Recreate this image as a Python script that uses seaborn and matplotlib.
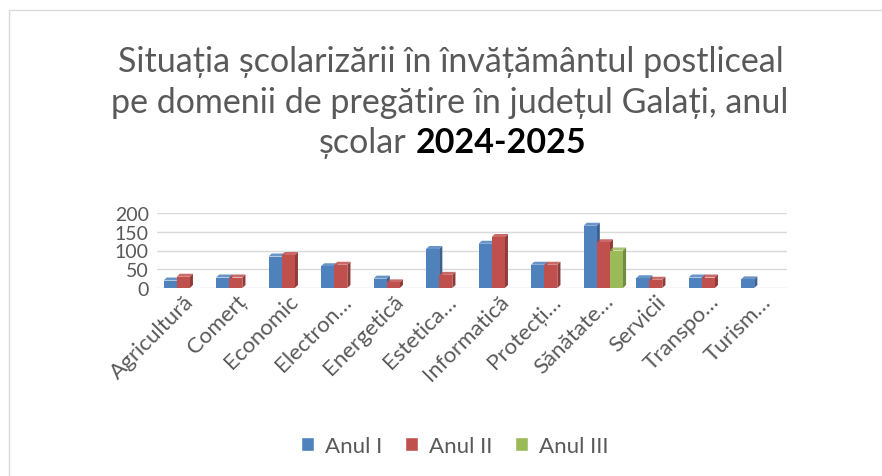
import numpy as np
import pandas as pd
import matplotlib
matplotlib.use("Agg")
import matplotlib.pyplot as plt
from matplotlib.patches import Polygon
from matplotlib.lines import Line2D
import seaborn as sns

# date
domenii = ["Agricultură", "Comerț", "Economic", "Electron…", "Energetică",
           "Estetica…", "Informatică", "Protecți…", "Sănătate…", "Servicii",
           "Transpo…", "Turism…"]
anul_1 = [20, 28, 84, 58, 25, 104, 118, 62, 166, 26, 28, 23]
anul_2 = [30, 28, 88, 62, 15, 35, 136, 62, 122, 22, 28, np.nan]
anul_3 = [np.nan] * 8 + [100] + [np.nan] * 3
serii = ["Anul I", "Anul II", "Anul III"]
culori = ["#4F81BD", "#C0504D", "#9BBB59"]
umbre = ["#3A6190", "#913B39", "#738C42"]
y_ticks = [0, 50, 100, 150, 200]

df = pd.DataFrame({"Domeniu": domenii, "Anul I": anul_1,
                   "Anul II": anul_2, "Anul III": anul_3})
df = df.melt(id_vars="Domeniu", var_name="An", value_name="Elevi").dropna()

sns.set_style("white")
plt.rcParams["font.family"] = ["Lato", "DejaVu Sans"]
gri = "#595959"

fig = plt.figure(figsize=(8.82, 4.77), dpi=100)
ax = fig.add_axes([157 / 882, 1 - 289 / 477, 630 / 882, 75 / 477])

sns.barplot(data=df, x="Domeniu", y="Elevi", hue="An", order=domenii,
            hue_order=serii, palette=culori, width=0.75, saturation=1,
            ax=ax, linewidth=0, zorder=3)

# efect 3D simplu: fata de sus si fata laterala
dx, dy = 0.06, 8
for i, cont in enumerate(ax.containers):
    for bar in cont:
        h = bar.get_height()
        if not np.isfinite(h) or h == 0:
            continue
        x0, w = bar.get_x(), bar.get_width()
        top = Polygon([(x0, h), (x0 + w, h), (x0 + w + dx, h + dy), (x0 + dx, h + dy)],
                      closed=True, fc=culori[i], ec="none", zorder=3 + i, alpha=0.85)
        side = Polygon([(x0 + w, 0), (x0 + w + dx, dy), (x0 + w + dx, h + dy), (x0 + w, h)],
                       closed=True, fc=umbre[i], ec="none", zorder=3 + i)
        ax.add_patch(side)
        ax.add_patch(top)
        bar.set_zorder(3 + i + 0.5)

ax.set_ylim(0, 200)
ax.set_xlim(-0.5, len(domenii) - 0.5)
ax.set_yticks(y_ticks)
ax.yaxis.grid(True, color="#D9D9D9", lw=1)
ax.set_axisbelow(True)
for s in ax.spines.values():
    s.set_visible(False)
ax.set_xlabel("")
ax.set_ylabel("")
ax.tick_params(axis="y", labelsize=14, colors=gri, pad=6, length=0)
ax.tick_params(axis="x", labelsize=16, colors=gri, length=0, pad=2)
plt.setp(ax.get_xticklabels(), rotation=45, ha="right", rotation_mode="anchor")

ax.legend_.remove()
handles = [plt.Rectangle((0, 0), 1, 1, fc=c) for c in culori]
fig.legend(handles, serii, loc="center", bbox_to_anchor=(455 / 882, 1 - 447 / 477),
           ncol=3, frameon=False, fontsize=16, labelcolor=gri,
           handlelength=0.6, handleheight=0.6, handletextpad=0.5, columnspacing=1.0)

# titlu
fs = 24.5
fig.text(451 / 882, 1 - 62 / 477, "Situația școlarizării în învățământul postliceal",
         ha="center", va="center", fontsize=fs, color=gri)
fig.text(450 / 882, 1 - 103 / 477, "pe domenii de pregătire în județul Galați, anul",
         ha="center", va="center", fontsize=fs, color=gri)
fig.text(406 / 882, 1 - 143 / 477, "școlar", ha="right", va="center",
         fontsize=fs, color=gri)
fig.text(416 / 882, 1 - 143 / 477, "2024-2025", ha="left", va="center",
         fontsize=fs, color="black", fontweight="bold")

# chenar
fig.add_artist(Line2D([9 / 882, 1], [1 - 11 / 477, 1 - 11 / 477], color="#D9D9D9", lw=1))
fig.add_artist(Line2D([9 / 882, 9 / 882], [0, 1 - 11 / 477], color="#D9D9D9", lw=1))

fig.savefig("out.png", dpi=100)
